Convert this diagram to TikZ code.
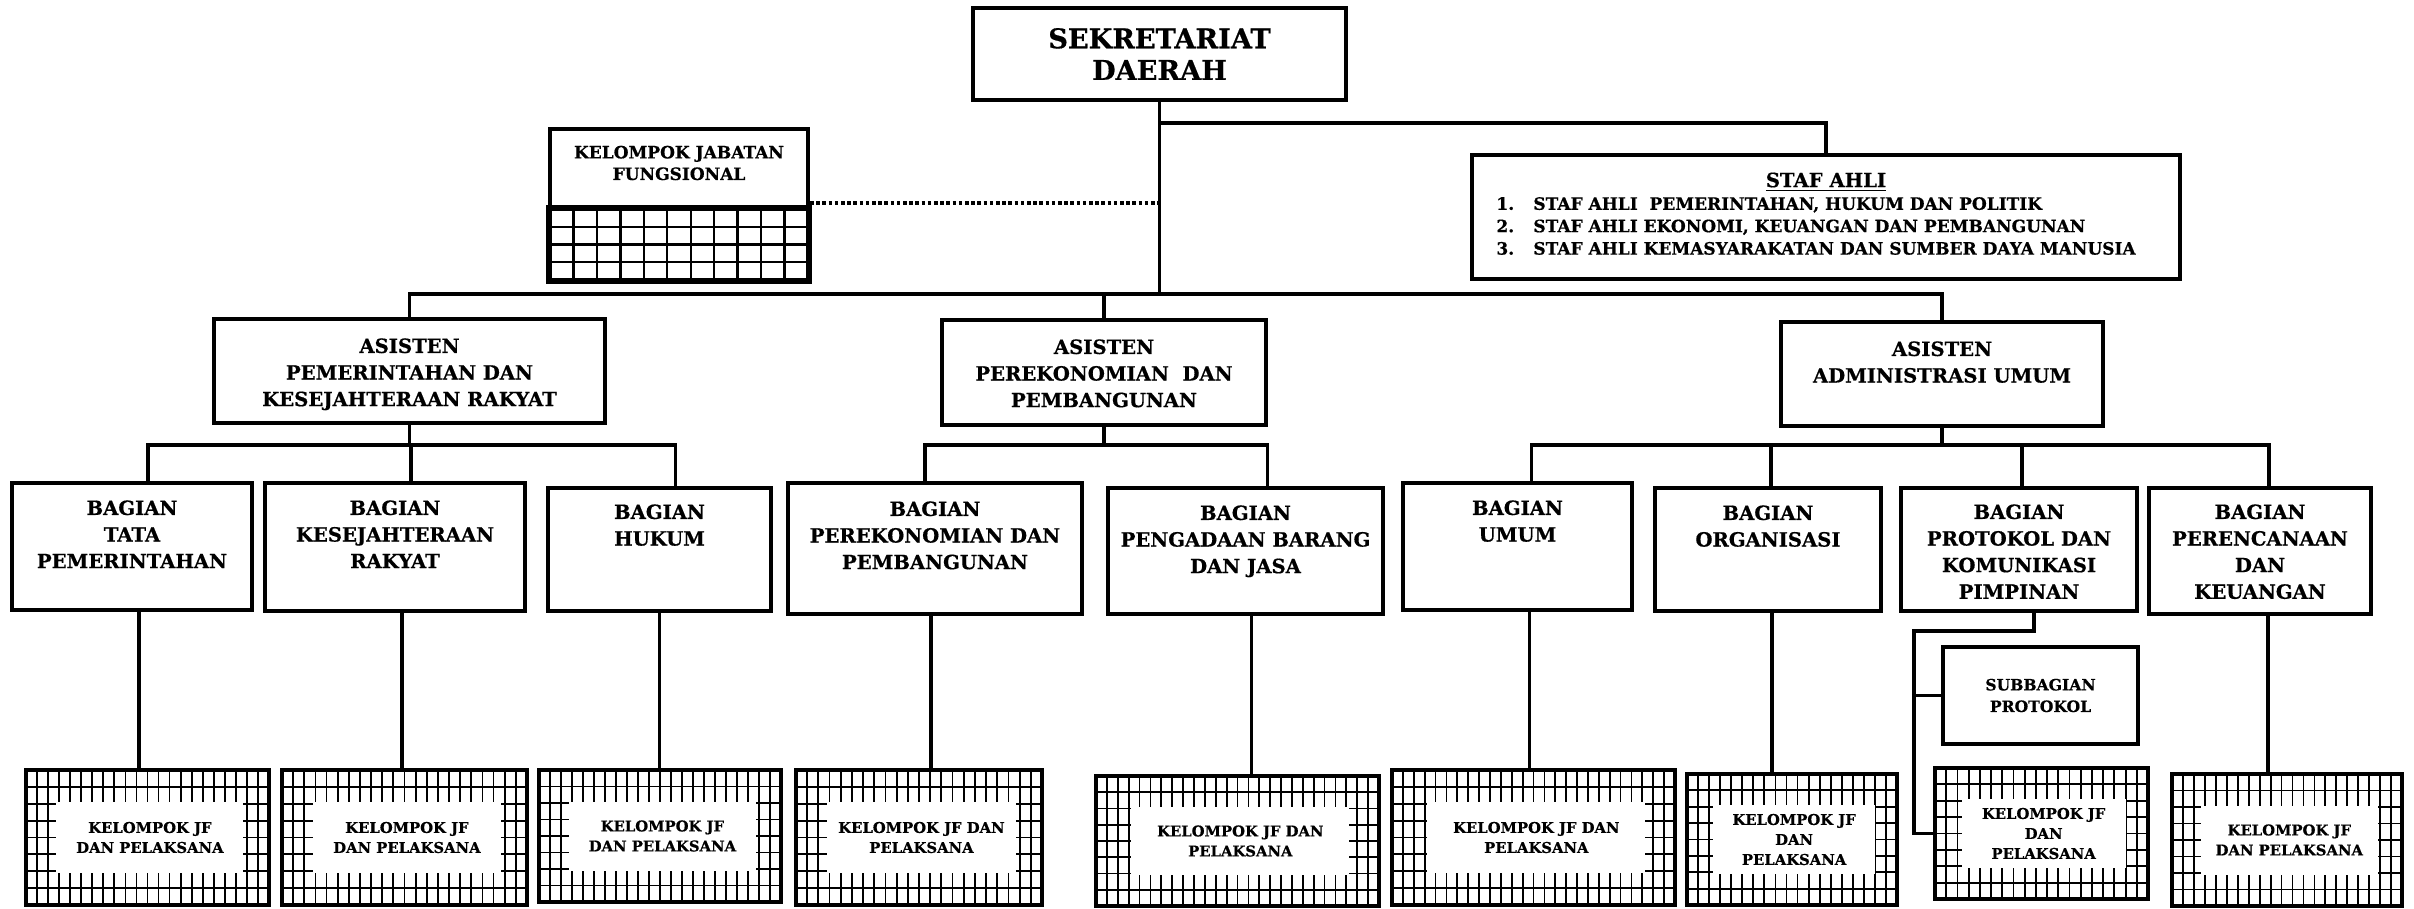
\documentclass[tikz,border=0pt]{standalone}
\usepackage{fontspec}
\setmainfont{DejaVu Serif}[BoldFeatures={FakeBold=0.6}]
\usetikzlibrary{calc}
\newcommand{\bx}[5]{\node[box, minimum width={(#4-#2)*0.5pt}, minimum height={(#5-#3)*0.5pt}] (#1) at ({(#2+#4)/2},{(#3+#5)/2}) {};}
\newcommand{\kjfbox}[7]{%
  \node[gbox, minimum width={(#4-#2)*0.5pt}, minimum height={(#5-#3)*0.5pt}] (#1) at ({(#2+#4)/2},{(#3+#5)/2}) {};
  \pgfmathtruncatemacro\nm{#6-1}%
  \foreach \i in {1,...,\nm} {\draw[gline] ({#2+\i*(#4-#2)/#6},#3) -- ({#2+\i*(#4-#2)/#6},#5);}
  \foreach \j in {1,...,7} {\draw[gline] (#2,{#3+\j*(#5-#3)/8}) -- (#4,{#3+\j*(#5-#3)/8});}
  \fill[white] ({#2+0.125*(#4-#2)},{#3+0.25*(#5-#3)-1.5}) rectangle ({#4-0.105*(#4-#2)},{#5-0.25*(#5-#3)+1.5});
  \node[ktxt] (#1t) at ({#2+0.51*(#4-#2)},{(#3+#5)/2}) {#7};
}
\begin{document}
\begin{tikzpicture}[x=0.5pt,y=-0.5pt,
  box/.style={draw, line width=2pt, fill=white, inner sep=0, rectangle},
  gbox/.style={draw, line width=2pt, fill=white, inner sep=0, rectangle},
  gline/.style={line width=0.9pt},
  conn/.style={line width=1.7pt},
  dotl/.style={line width=1.6pt, dash pattern=on 1.8pt off 1.3pt},
  txt/.style={inner sep=0, align=center, font=\bfseries\fontsize{9.8}{13.3}\selectfont},
  ktxt/.style={inner sep=0, align=center, font=\bfseries\fontsize{7.4}{10}\selectfont},
]
\useasboundingbox (0,0) rectangle (2414,909);
\fill[white] (0,0) rectangle (2414,909);

% top
\bx{sekda}{973}{8}{1346}{100}
\node[inner sep=0, align=center, font=\bfseries\fontsize{13.6}{15.8}\selectfont] (sekdat) at (sekda) {SEKRETARIAT\\DAERAH};

\bx{staf}{1472}{155}{2180}{279}
\node[inner sep=0, font=\bfseries\fontsize{9.8}{12}\selectfont] (staft) at (1826,182) {\underline{STAF AHLI}};
\node[inner sep=0, anchor=west, align=left, font=\bfseries\fontsize{8.5}{11.2}\selectfont] (stafl) at (1496,226)
 {\makebox[18.5pt][l]{1.}STAF AHLI \ PEMERINTAHAN, HUKUM DAN POLITIK\\
  \makebox[18.5pt][l]{2.}STAF AHLI EKONOMI, KEUANGAN DAN PEMBANGUNAN\\
  \makebox[18.5pt][l]{3.}STAF AHLI KEMASYARAKATAN DAN SUMBER DAYA MANUSIA};

% kelompok jabatan fungsional
\bx{kjf}{550}{129}{808}{209}
\node[inner sep=0, align=center, font=\bfseries\fontsize{8.5}{10.8}\selectfont] (kjft) at ([yshift=3pt]kjf) {KELOMPOK JABATAN\\FUNGSIONAL};
\node[gbox, minimum width={258*0.5pt}, minimum height={71*0.5pt}] (kjfg) at (679,244.5) {};
\foreach \i in {1,...,10} {\draw[line width=1.2pt] ({550+\i*258/11},209) -- ({550+\i*258/11},280);}
\foreach \j in {1,...,3} {\draw[line width=1.2pt] (550,{209+\j*71/4}) -- (808,{209+\j*71/4});}
\draw[line width=2pt] (kjfg.north west) rectangle (kjfg.south east);

% asisten
\bx{a1}{214}{319}{605}{423}
\bx{a2}{942}{320}{1266}{425}
\bx{a3}{1781}{322}{2103}{426}
\node[txt, anchor=north] (a1t) at ([yshift=-10.5pt]a1.north) {ASISTEN\\PEMERINTAHAN DAN\\KESEJAHTERAAN RAKYAT};
\node[txt, anchor=north] (a2t) at ([yshift=-10.5pt]a2.north) {ASISTEN\\PEREKONOMIAN \ DAN\\PEMBANGUNAN};
\node[txt, anchor=north] (a3t) at ([yshift=-10.5pt]a3.north) {ASISTEN\\ADMINISTRASI UMUM};

% bagian
\bx{b1}{12}{483}{252}{610}
\bx{b2}{265}{483}{525}{611}
\bx{b3}{548}{488}{771}{611}
\bx{b4}{788}{483}{1082}{614}
\bx{b5}{1108}{488}{1383}{614}
\bx{b6}{1403}{483}{1632}{610}
\bx{b7}{1655}{488}{1881}{611}
\bx{b8}{1901}{488}{2137}{611}
\bx{b9}{2149}{488}{2371}{614}
\node[txt, anchor=north] (b1t) at ([yshift=-9.5pt]b1.north) {BAGIAN\\TATA\\PEMERINTAHAN};
\node[txt, anchor=north] (b2t) at ([yshift=-9.5pt]b2.north) {BAGIAN\\KESEJAHTERAAN\\RAKYAT};
\node[txt, anchor=north] (b3t) at ([yshift=-9pt]b3.north) {BAGIAN\\HUKUM};
\node[txt, anchor=north] (b4t) at ([yshift=-10pt]b4.north) {BAGIAN\\PEREKONOMIAN DAN\\PEMBANGUNAN};
\node[txt, anchor=north] (b5t) at ([yshift=-9.5pt]b5.north) {BAGIAN\\PENGADAAN BARANG\\DAN JASA};
\node[txt, anchor=north] (b6t) at ([yshift=-9.5pt]b6.north) {BAGIAN\\UMUM};
\node[txt, anchor=north] (b7t) at ([yshift=-9.5pt]b7.north) {BAGIAN\\ORGANISASI};
\node[txt, anchor=north] (b8t) at ([yshift=-9pt]b8.north) {BAGIAN\\PROTOKOL DAN\\KOMUNIKASI\\PIMPINAN};
\node[txt, anchor=north] (b9t) at ([yshift=-9pt]b9.north) {BAGIAN\\PERENCANAAN\\DAN\\KEUANGAN};

% subbagian
\bx{sub}{1943}{647}{2138}{744}
\node[inner sep=0, align=center, font=\bfseries\fontsize{7.8}{10.8}\selectfont] (subt) at (sub) {SUBBAGIAN\\PROTOKOL};

% kelompok JF
\kjfbox{k1}{26}{770}{269}{905}{22}{KELOMPOK JF\\DAN PELAKSANA}
\kjfbox{k2}{282}{770}{527}{905}{22}{KELOMPOK JF\\DAN PELAKSANA}
\kjfbox{k3}{539}{770}{781}{902}{22}{KELOMPOK JF\\DAN PELAKSANA}
\kjfbox{k4}{796}{770}{1042}{905}{22}{KELOMPOK JF DAN\\PELAKSANA}
\kjfbox{k5}{1096}{776}{1379}{906}{26}{KELOMPOK JF DAN\\PELAKSANA}
\kjfbox{k6}{1392}{770}{1675}{905}{26}{KELOMPOK JF DAN\\PELAKSANA}
\kjfbox{k7}{1687}{774}{1897}{905}{19}{KELOMPOK JF\\DAN\\PELAKSANA}
\kjfbox{k8}{1935}{768}{2148}{899}{19}{KELOMPOK JF\\DAN\\PELAKSANA}
\kjfbox{k9}{2172}{774}{2402}{906}{21}{KELOMPOK JF\\DAN PELAKSANA}

% connectors
\path (0,294) coordinate (busy) (0,123) coordinate (stafy) (0,203) coordinate (doty) (0,445) coordinate (sby);
\draw[conn] (sekda.south) -- (sekda.south |- busy);
\draw[conn] (a1.north) -- (a1.north |- busy) -- (a3.north |- busy) -- (a3.north);
\draw[conn] (a2.north) -- (a2.north |- busy);
\draw[conn] (sekda.south |- stafy) -| (staf.north);
\draw[dotl] (kjf.east |- doty) -- (sekda.south |- doty);

\draw[conn] (a1.south) -- (a1.south |- sby);
\draw[conn] ([xshift=8pt]b1.north) -- ([xshift=8pt]b1.north |- sby) -- ([xshift=8pt]b3.north |- sby) -- ([xshift=8pt]b3.north);
\draw[conn] ([xshift=8pt]b2.north) -- ([xshift=8pt]b2.north |- sby);

\draw[conn] (a2.south) -- (a2.south |- sby);
\draw[conn] ([xshift=-5pt]b4.north) -- ([xshift=-5pt]b4.north |- sby) -- ([xshift=11pt]b5.north |- sby) -- ([xshift=11pt]b5.north);

\draw[conn] (a3.south) -- (a3.south |- sby);
\draw[conn] ([xshift=7pt]b6.north) -- ([xshift=7pt]b6.north |- sby) -- ([xshift=4.5pt]b9.north |- sby) -- ([xshift=4.5pt]b9.north);
\draw[conn] ([xshift=1.5pt]b7.north) -- ([xshift=1.5pt]b7.north |- sby);
\draw[conn] ([xshift=1.5pt]b8.north) -- ([xshift=1.5pt]b8.north |- sby);

\draw[conn] ([xshift=3.5pt]b1.south) -- ([xshift=3.5pt]b1.south |- k1.north);
\draw[conn] ([xshift=3.5pt]b2.south) -- ([xshift=3.5pt]b2.south |- k2.north);
\draw[conn] (b3.south) -- (b3.south |- k3.north);
\draw[conn] ([xshift=-2pt]b4.south) -- ([xshift=-2pt]b4.south |- k4.north);
\draw[conn] ([xshift=3pt]b5.south) -- ([xshift=3pt]b5.south |- k5.north);
\draw[conn] ([xshift=6pt]b6.south) -- ([xshift=6pt]b6.south |- k6.north);
\draw[conn] ([xshift=2pt]b7.south) -- ([xshift=2pt]b7.south |- k7.north);
\draw[conn] ([xshift=4pt]b9.south) -- ([xshift=4pt]b9.south |- k9.north);

\coordinate (pcorner) at (1914,631);
\draw[conn] ([xshift=7.5pt]b8.south) |- (pcorner) -- (pcorner |- k8.west) -- (k8.west);
\draw[conn] (pcorner |- sub.west) -- (sub.west);
\end{tikzpicture}
\end{document}
